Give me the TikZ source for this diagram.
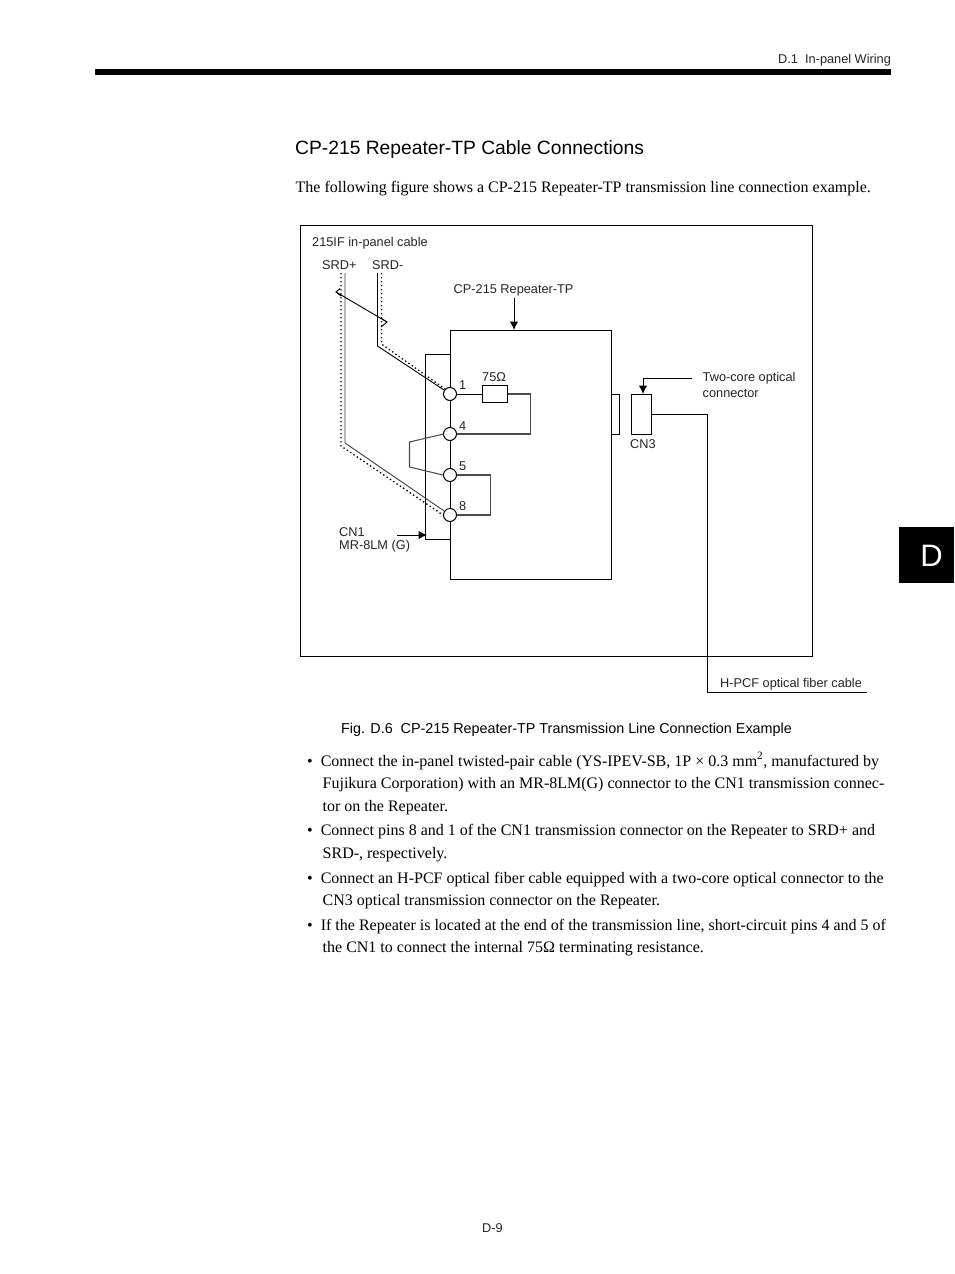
\documentclass[tikz,border=0pt]{standalone}
\usepackage{fontspec}
\setmainfont{Liberation Serif}
\newfontfamily\arl{Liberation Sans}
\usetikzlibrary{arrows.meta}
\tikzset{
 x=1pt,y=-1pt,
 wire/.style={line width=1pt,black},
 grayw/.style={line width=1.05pt,black!70},
 dotw/.style={line width=1.3pt,black,dash pattern=on 1.4pt off 2.6pt},
 thinw/.style={line width=0.9pt,black},
 arr/.style={wire,-{Latex[length=8.5pt,width=8.5pt]}},
 pin/.style={circle,draw,fill=white,line width=1pt,minimum size=13pt,inner sep=0pt},
 lab/.style={font=\arl\fontsize{12.75}{14}\selectfont,anchor=base west,inner sep=0pt,text=black!85},
 body/.style={font=\fontsize{16}{18}\selectfont,anchor=base west,inner sep=0pt},
}
\begin{document}
\begin{tikzpicture}
\useasboundingbox (0,0) rectangle (954,1274);
\fill[white] (0,0) rectangle (954,1274);
% header
\node[lab] (hdr) at (778,63) {D.1\ \ In-panel Wiring};
\fill[black] (95,69) rectangle (891,74.5);
\fill[black] (899,527) rectangle (954,583);
\node[font=\arl\fontsize{31}{33}\selectfont,text=white,inner sep=0pt] (tab) at (931.5,555.5) {D};
\node[font=\arl\fontsize{19.25}{22}\selectfont,anchor=base west,inner sep=0pt] (head) at (295,154) {CP-215 Repeater-TP Cable Connections};
\node[body] (intro) at (295.5,192) {The following figure shows a CP-215 Repeater-TP transmission line connection example.};
% frame
\draw[wire] (300.5,225.5) rectangle (812.5,656.5);
\node[lab] (l215) at (312,246) {215IF in-panel cable};
\node[lab] (lsp) at (322,269) {SRD+};
\node[lab] (lsm) at (372,269) {SRD-};
\node[lab] (lrep) at (453.5,293) {CP-215 Repeater-TP};
% boxes
\draw[wire] (450,330) rectangle (611,579);
\draw[wire] (450,354) -- (425.5,354) -- (425.5,539) -- (450,539);
\draw[wire] (611,394) -- (619.5,394) -- (619.5,434) -- (611,434);
\node[draw,line width=1pt,minimum width=20pt,minimum height=40pt,inner sep=0pt] (cn3) at (641.5,414) {};
\node[draw,line width=1pt,minimum width=25pt,minimum height=16.5pt,inner sep=0pt] (res) at (494.5,394) {};
% pins
\node[pin] (p1) at (450,394) {};
\node[pin] (p4) at (450,434) {};
\node[pin] (p5) at (450,475) {};
\node[pin] (p8) at (450,515) {};
\node[lab] at (459,389) {1};
\node[lab] at (459,430) {4};
\node[lab] at (459,470) {5};
\node[lab] at (459,510) {8};
\node[lab] (l75) at (482,381) {75Ω};
% internal wires
\draw[wire] (p1) -- (res);
\draw[grayw] (res.east) -| (530.5,434) -- (p4);
\draw[grayw] (p4.west) ++(0.5,0) -- (409.5,442) -- (409.5,467) -- (p5.west);
\draw[grayw] (p5.east) -- (490.5,475) -- (490.5,515) -- (p8.east);
% cables
\coordinate (sp0) at (345,273); \coordinate (sp1) at (345,443);
\coordinate (dp0) at (341,273); \coordinate (dp1) at (341,446);
\coordinate (sm0) at (377.5,273); \coordinate (sm1) at (377.5,346);
\coordinate (dm0) at (381.5,273); \coordinate (dm1) at (381.5,344);
\draw[thinw,black!75] (sp0) -- (sp1) -- (p8);
\draw[dotw] (dp0) -- (dp1) -- (p8.west);
\draw[thinw] (sm0) -- (sm1) -- (p1);
\draw[dotw] (dm0) -- (dm1) -- (p1.north west);
% twist mark
\draw[thinw] (340,288.5) -- (336,292) -- (387,322) -- (381,327);
\draw[thinw] (380.5,318) -- (387,322);
\draw[thinw] (336,292) -- (341,296);
% arrows
\coordinate (arepa) at (514,298); \coordinate (arepb) at (514,330);
\draw[arr] (arepa) -- (arepb);
\coordinate (acn1) at (397,535); \coordinate (acn1b) at (427,535);
\draw[arr] (acn1) -- (acn1b);
\coordinate (atc) at (692,378); \coordinate (cn3t) at (643,394);
\draw[arr] (atc) -| (cn3t);
\node[lab] (lcn1) at (339,536) {CN1};
\node[lab] (lmr) at (339,549) {MR-8LM (G)};
\node[lab] (ltc) at (702.5,381) {Two-core optical};
\node[lab] (ltc2) at (702.5,397) {connector};
\node[lab] (lcn3) at (630,448) {CN3};
% fiber
\coordinate (fa) at (707.5,692); \coordinate (fb) at (867,692);
\draw[wire] (cn3.east) -| (fa) -- (fb);
\node[lab] (lfib) at (720,687) {H-PCF optical fiber cable};
\node[font=\arl\fontsize{14.35}{16}\selectfont,anchor=base west,inner sep=0pt] (cap) at (341,733) {Fig. D.6\ \ CP-215 Repeater-TP Transmission Line Connection Example};
% bullets
\node[body] at (307,766) {•\ \ Connect the in-panel twisted-pair cable (YS-IPEV-SB, 1P × 0.3 mm\textsuperscript{2}, manufactured by};
\node[body] at (322.5,788.5) {Fujikura Corporation) with an MR-8LM(G) connector to the CN1 transmission connec-};
\node[body] at (322.5,811.5) {tor on the Repeater.};
\node[body] at (307,835) {•\ \ Connect pins 8 and 1 of the CN1 transmission connector on the Repeater to SRD+ and};
\node[body] at (322.5,858) {SRD-, respectively.};
\node[body] at (307,883) {•\ \ Connect an H-PCF optical fiber cable equipped with a two-core optical connector to the};
\node[body] at (322.5,905.5) {CN3 optical transmission connector on the Repeater.};
\node[body] at (307,930) {•\ \ If the Repeater is located at the end of the transmission line, short-circuit pins 4 and 5 of};
\node[body] at (322.5,952.5) {the CN1 to connect the internal 75Ω terminating resistance.};
\node[lab] (pg) at (482,1232) {D-9};
\end{tikzpicture}
\end{document}
